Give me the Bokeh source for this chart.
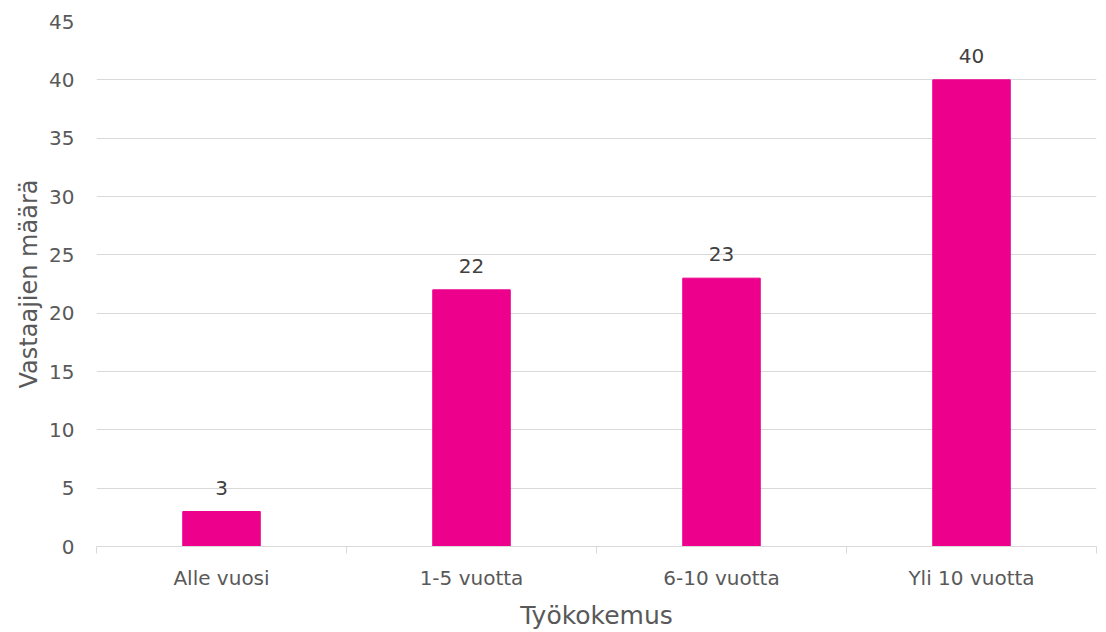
from bokeh.plotting import figure
from bokeh.models import ColumnDataSource, FixedTicker, Range1d
from bokeh.core.properties import value
from bokeh.embed import file_html
from bokeh.resources import INLINE

categories = ["Alle vuosi", "1-5 vuotta", "6-10 vuotta", "Yli 10 vuotta"]
counts = [3, 22, 23, 40]
y_ticks = [0, 5, 10, 15, 20, 25, 30, 35, 40, 45]

FONT = "DejaVu Sans"
TXT = "#595959"
x_pos = [i + 0.5 for i in range(len(categories))]
src = ColumnDataSource(dict(x=x_pos, y=counts, lab=[str(c) for c in counts]))

p = figure(width=1098, height=632, output_backend="svg", toolbar_location=None,
           x_range=Range1d(0, len(categories)), y_range=Range1d(0, 45),
           min_border_left=96, min_border_right=2, min_border_top=21, min_border_bottom=86)
p.outline_line_color = None
p.background_fill_color = "white"
p.border_fill_color = "white"

p.vbar(x="x", top="y", width=0.31, source=src, color="#EC008C")
p.text(x="x", y="y", text="lab", source=src, y_offset=-17,
       text_align="center", text_baseline="bottom",
       text_font=value(FONT), text_font_size="20px", text_color="#404040")

# y axis
p.yaxis.ticker = FixedTicker(ticks=y_ticks)
p.yaxis.axis_line_color = None
p.yaxis.major_tick_line_color = None
p.yaxis.major_tick_out = 0
p.yaxis.major_tick_in = 0
p.yaxis.minor_tick_line_color = None
p.yaxis.major_label_standoff = 22
p.yaxis.major_label_text_font = FONT
p.yaxis.major_label_text_font_size = "20px"
p.yaxis.major_label_text_color = TXT
p.yaxis.axis_label = "Vastaajien määrä"
p.yaxis.axis_label_text_font = FONT
p.yaxis.axis_label_text_font_size = "24px"
p.yaxis.axis_label_text_font_style = "normal"
p.yaxis.axis_label_text_color = TXT
p.yaxis.axis_label_standoff = 3

# x axis
p.xaxis.ticker = FixedTicker(ticks=x_pos, minor_ticks=list(range(len(categories) + 1)))
p.xaxis.major_label_overrides = {x: c for x, c in zip(x_pos, categories)}
p.xaxis.major_tick_line_color = None
p.xaxis.major_tick_out = 0
p.xaxis.major_tick_in = 0
p.xaxis.minor_tick_line_color = "#d9d9d9"
p.xaxis.minor_tick_in = 0
p.xaxis.minor_tick_out = 7
p.xaxis.axis_line_color = "#d9d9d9"
p.xaxis.axis_line_width = 1
p.xaxis.major_label_standoff = 12
p.xaxis.major_label_text_font = FONT
p.xaxis.major_label_text_font_size = "20px"
p.xaxis.major_label_text_color = TXT
p.xaxis.axis_label = "Työkokemus"
p.xaxis.axis_label_text_font = FONT
p.xaxis.axis_label_text_font_size = "25px"
p.xaxis.axis_label_text_font_style = "normal"
p.xaxis.axis_label_text_color = TXT
p.xaxis.axis_label_standoff = 8

p.xgrid.grid_line_color = None
p.ygrid.grid_line_color = "#d9d9d9"
p.ygrid.grid_line_width = 1

open("out.html", "w").write(file_html(p, INLINE))
